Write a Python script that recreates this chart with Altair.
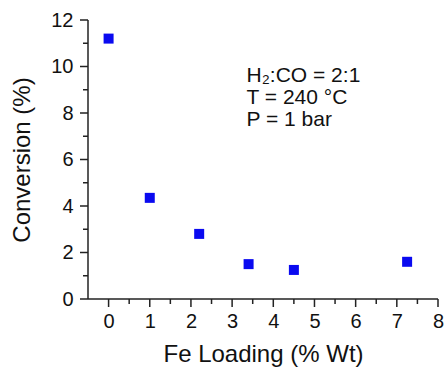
import altair as alt
import pandas as pd

fe_loading = [0.0, 1.0, 2.2, 3.4, 4.5, 7.25]
conversion = [11.2, 4.35, 2.8, 1.5, 1.25, 1.6]
notes = ["H\u2082:CO = 2:1", "T = 240 \u00b0C", "P = 1 bar"]
note_x = [3.35, 3.35, 3.35]
note_y = [9.6, 8.65, 7.7]

x_domain = [-0.5, 8]
y_domain = [0, 12]
x_major = [0, 1, 2, 3, 4, 5, 6, 7, 8]
x_minor = [0.5, 1.5, 2.5, 3.5, 4.5, 5.5, 6.5, 7.5]
y_major = [0, 2, 4, 6, 8, 10, 12]
y_minor = [1, 3, 5, 7, 9, 11]

FONT = "Liberation Sans"
INK = "#111111"
AX = "#222222"

df = pd.DataFrame({"x": fe_loading, "y": conversion})
notes_df = pd.DataFrame({"t": notes, "x": note_x, "y": note_y})
frame_df = pd.DataFrame({"x0": [x_domain[0]], "x1": [x_domain[1]], "y0": [y_domain[0]], "y1": [y_domain[1]]})
xt_major = pd.DataFrame({"v": x_major, "base": y_domain[0]})
xt_minor = pd.DataFrame({"v": x_minor, "base": y_domain[0]})
yt_major = pd.DataFrame({"v": y_major, "base": x_domain[0]})
yt_minor = pd.DataFrame({"v": y_minor, "base": x_domain[0]})

xscale = alt.Scale(domain=x_domain, nice=False, zero=False)
yscale = alt.Scale(domain=y_domain, nice=False)

points = alt.Chart(df).mark_point(shape="square", filled=True, size=100, color="#0a0af0", opacity=1).encode(
    x=alt.X("x:Q", scale=xscale, title="Fe Loading (% Wt)",
            axis=alt.Axis(values=x_major, ticks=False, domain=False, labelPadding=12, titlePadding=11,
                          orient="bottom", labelFlush=False)),
    y=alt.Y("y:Q", scale=yscale, title="Conversion (%)",
            axis=alt.Axis(values=y_major, ticks=False, domain=False, labelPadding=15, titlePadding=16,
                          orient="left", labelFlush=False)),
)

HALF = 0.75

# axis lines as thin filled rectangles
xline = alt.Chart(frame_df).mark_rect(color=AX, yOffset=-HALF, y2Offset=HALF).encode(
    x=alt.X("x0:Q", scale=xscale, axis=None), x2="x1:Q",
    y=alt.Y("y0:Q", scale=yscale, axis=None), y2="y0:Q",
)
yline = alt.Chart(frame_df).mark_rect(color=AX, xOffset=-HALF, x2Offset=HALF).encode(
    x=alt.X("x0:Q", scale=xscale, axis=None), x2="x0:Q",
    y=alt.Y("y0:Q", scale=yscale, axis=None), y2="y1:Q",
)


def x_ticks(data, length):
    return alt.Chart(data).mark_rect(color=AX, xOffset=-HALF, x2Offset=HALF, yOffset=0, y2Offset=length).encode(
        x=alt.X("v:Q", scale=xscale, axis=None), x2="v:Q",
        y=alt.Y("base:Q", scale=yscale, axis=None), y2="base:Q",
    )


def y_ticks(data, length):
    return alt.Chart(data).mark_rect(color=AX, yOffset=-HALF, y2Offset=HALF, xOffset=-length, x2Offset=0).encode(
        x=alt.X("base:Q", scale=xscale, axis=None), x2="base:Q",
        y=alt.Y("v:Q", scale=yscale, axis=None), y2="v:Q",
    )


text = alt.Chart(notes_df).mark_text(align="left", baseline="middle", font=FONT, fontSize=21, color=INK).encode(
    x=alt.X("x:Q", scale=xscale, axis=None),
    y=alt.Y("y:Q", scale=yscale, axis=None),
    text="t:N",
)

chart = alt.layer(
    xline, yline,
    x_ticks(xt_major, 8), x_ticks(xt_minor, 5),
    y_ticks(yt_major, 8), y_ticks(yt_minor, 5),
    points, text,
).resolve_axis(
    x="independent", y="independent"
).properties(
    width=350, height=279,
    autosize=alt.AutoSizeParams(type="none"),
    padding={"left": 88, "top": 20, "right": 9, "bottom": 72},
    background="white",
).configure_view(stroke=None).configure_axis(
    grid=False,
    labelFont=FONT, labelFontSize=20, labelColor=INK,
    titleFont=FONT, titleFontSize=24, titleFontWeight="normal", titleColor=INK,
)

chart.save("out.html", embed_options={"renderer": "svg", "actions": False})
